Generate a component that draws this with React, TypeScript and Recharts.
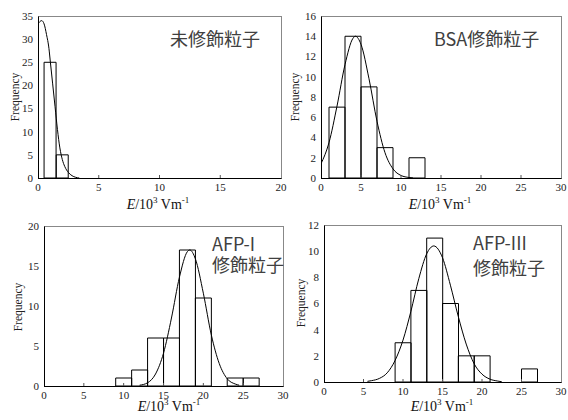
import { ComposedChart, Bar, Line, XAxis, YAxis } from 'recharts';

const SERIF = '"Liberation Serif", "Times New Roman", serif';
const SANS = '"Noto Sans CJK JP", "Noto Sans", sans-serif';

// 未修飾粒子
const binX1 = [1, 2];
const binN1 = [25, 5];
const fitX1 = [0, 0.3, 0.5, 0.7, 0.9, 1.0, 1.2, 1.4, 1.6, 1.8, 2.0, 2.2, 2.5, 2.8, 3.1, 3.4];
const fitY1 = [33.3, 34, 33.3, 31, 28, 25.5, 20.5, 15.5, 10.5, 6.5, 4, 2.5, 1.2, 0.5, 0.15, 0];

// BSA修飾粒子
const binX2 = [2, 4, 6, 8, 12];
const binN2 = [7, 14, 9, 3, 2];
const fitX2 = [0, 1, 2, 3, 4, 4.3, 5, 6, 7, 8, 9, 10, 11, 11.5];
const fitY2 = [1.4, 3.5, 7.1, 11.2, 13.8, 14, 13.2, 9.8, 5.6, 2.5, 0.9, 0.25, 0.05, 0];

// AFP-I 修飾粒子
const binX3 = [10, 12, 14, 16, 18, 20, 24, 26];
const binN3 = [1, 2, 6, 6, 17, 11, 1, 1];
const fitX3 = [12, 13, 14, 15, 16, 17, 18, 18.3, 19, 20, 21, 22, 23, 24, 24.5];
const fitY3 = [0.1, 0.4, 1.5, 4.1, 8.5, 13.6, 16.8, 17, 15.9, 11.6, 6.4, 2.8, 0.9, 0.25, 0.1];

// AFP-III 修飾粒子
const binX4 = [10, 12, 14, 16, 18, 20, 26];
const binN4 = [3, 7, 11, 6, 2, 2, 1];
const fitX4 = [5.5, 6, 7, 8, 9, 10, 11, 12, 13, 13.9, 15, 16, 17, 18, 19, 20, 21, 22, 22.5];
const fitY4 = [0.05, 0.1, 0.27, 0.7, 1.65, 3.2, 5.4, 7.9, 9.8, 10.4, 9.5, 7.4, 5.0, 2.9, 1.4, 0.6, 0.22, 0.07, 0.02];

const xTicks20 = [0, 5, 10, 15, 20];
const xTicks30 = [0, 5, 10, 15, 20, 25, 30];
const yTicks1 = [0, 5, 10, 15, 20, 25, 30, 35];
const yTicks2 = [0, 2, 4, 6, 8, 10, 12, 14, 16];
const yTicks3 = [0, 5, 10, 15, 20];
const yTicks4 = [0, 2, 4, 6, 8, 10, 12];

const AXIS_W = 34;
const PAD_T = 9;
const PAD_R = 6;
const AXIS_H = 22;

const XTick = (props: any) => {
    const { x, y, payload, xMax } = props;
    const inner = payload.value > 0 && payload.value < xMax;
    return (
        <g>
            {inner && <line x1={x} x2={x} y1={y - 5} y2={y - 8} stroke="#555" />}
            <text x={x} y={y} dy="0.71em" textAnchor="middle" fontSize={11} fontFamily={SERIF} fill="#222">
                {payload.value}
            </text>
        </g>
    );
};

interface PanelProps {
    box: [number, number, number, number];
    xMax: number;
    xTicks: number[];
    yMax: number;
    yTicks: number[];
    binX: number[];
    binN: number[];
    fitX: number[];
    fitY: number[];
}

function Panel({ box, xMax, xTicks, yMax, yTicks, binX, binN, fitX, fitY }: PanelProps) {
    const [l, t, r, b] = box;
    const bins = binX.map((x, i) => ({ x, n: binN[i] }));
    const fit = fitX.map((x, i) => ({ x, y: fitY[i] }));
    return (
        <>
            {/* plot frame: black left/bottom, grey top/right */}
            <div
                style={{
                    position: 'absolute',
                    left: l - 0.5,
                    top: t - 0.5,
                    width: r - l + 1,
                    height: b - t + 1,
                    boxSizing: 'border-box',
                    borderLeft: '1px solid #000',
                    borderBottom: '1px solid #000',
                    borderTop: '1px solid #888',
                    borderRight: '1px solid #888',
                }}
            />
            <div style={{ position: 'absolute', left: l - AXIS_W, top: t - PAD_T }}>
                <ComposedChart
                    width={r - l + AXIS_W + PAD_R}
                    height={b - t + PAD_T + AXIS_H}
                    data={bins}
                    margin={{ top: PAD_T, right: PAD_R, left: 0, bottom: 0 }}
                    barCategoryGap={0}
                    barGap={0}
                >
                    <XAxis
                        xAxisId="fit"
                        dataKey="x"
                        type="number"
                        domain={[0, xMax]}
                        ticks={xTicks}
                        interval={0}
                        height={AXIS_H}
                        tickSize={0}
                        tickMargin={5}
                        tickLine={false}
                        axisLine={false}
                        tick={<XTick xMax={xMax} />}
                        allowDataOverflow
                    />
                    <XAxis xAxisId="bin" dataKey="x" type="number" domain={[0, xMax]} height={0} hide />
                    <YAxis
                        yAxisId="y"
                        type="number"
                        domain={[0, yMax]}
                        ticks={yTicks}
                        interval={0}
                        width={AXIS_W}
                        tickSize={0}
                        tickMargin={5}
                        tickLine={false}
                        axisLine={false}
                        tick={{ fontSize: 11, fontFamily: SERIF, fill: '#222' }}
                        allowDataOverflow
                    />
                    <Bar xAxisId="bin" yAxisId="y" dataKey="n" fill="none" stroke="#000" strokeWidth={1} isAnimationActive={false} />
                    <Line
                        xAxisId="fit"
                        yAxisId="y"
                        data={fit}
                        dataKey="y"
                        type="monotone"
                        dot={false}
                        activeDot={false}
                        stroke="#000"
                        strokeWidth={1}
                        isAnimationActive={false}
                    />
                </ComposedChart>
            </div>
        </>
    );
}

const supStyle = { fontSize: 9, verticalAlign: 'super', lineHeight: 0 } as const;

const XTitle = ({ cx, top }: { cx: number; top: number }) => (
    <div
        style={{
            position: 'absolute',
            left: cx,
            top,
            transform: 'translateX(-50%)',
            fontFamily: SERIF,
            fontSize: 14,
            lineHeight: '12px',
            whiteSpace: 'nowrap',
            color: '#111',
        }}
    >
        <i>E</i>/10<sup style={supStyle}>3</sup> Vm<sup style={supStyle}>-1</sup>
    </div>
);

const YTitle = ({ cx, cy }: { cx: number; cy: number }) => (
    <div
        style={{
            position: 'absolute',
            left: cx,
            top: cy,
            transform: 'translate(-50%, -50%) rotate(-90deg)',
            fontFamily: SERIF,
            fontSize: 11.5,
            lineHeight: '12px',
            whiteSpace: 'nowrap',
            color: '#222',
        }}
    >
        Frequency
    </div>
);

const Label = ({ left, top, text }: { left: number; top: number; text: string }) => (
    <div
        style={{
            position: 'absolute',
            left,
            top,
            fontFamily: SANS,
            fontSize: 18,
            lineHeight: '20px',
            whiteSpace: 'nowrap',
            color: '#404040',
        }}
    >
        {text}
    </div>
);

export default function App() {
    return (
        <div style={{ position: 'absolute', left: 0, top: 0, width: 568, height: 420, background: '#fff', overflow: 'hidden' }}>
            <Panel box={[38, 16, 281, 178]} xMax={20} xTicks={xTicks20} yMax={35} yTicks={yTicks1} binX={binX1} binN={binN1} fitX={fitX1} fitY={fitY1} />
            <Panel box={[321, 16, 561, 178]} xMax={30} xTicks={xTicks30} yMax={16} yTicks={yTicks2} binX={binX2} binN={binN2} fitX={fitX2} fitY={fitY2} />
            <Panel box={[44, 226, 283, 386]} xMax={30} xTicks={xTicks30} yMax={20} yTicks={yTicks3} binX={binX3} binN={binN3} fitX={fitX3} fitY={fitY3} />
            <Panel box={[324, 225, 561, 382]} xMax={30} xTicks={xTicks30} yMax={12} yTicks={yTicks4} binX={binX4} binN={binN4} fitX={fitX4} fitY={fitY4} />

            <YTitle cx={15} cy={97} />
            <YTitle cx={295} cy={97} />
            <YTitle cx={18} cy={307} />
            <YTitle cx={301} cy={303} />

            <XTitle cx={158} top={199} />
            <XTitle cx={440} top={199} />
            <XTitle cx={169} top={401} />
            <XTitle cx={442} top={401} />

            <Label left={170} top={28} text="未修飾粒子" />
            <Label left={434} top={28} text="BSA修飾粒子" />
            <Label left={212} top={233} text="AFP-I" />
            <Label left={212} top={254} text="修飾粒子" />
            <Label left={473} top={232} text="AFP-III" />
            <Label left={473} top={257} text="修飾粒子" />
        </div>
    );
}
